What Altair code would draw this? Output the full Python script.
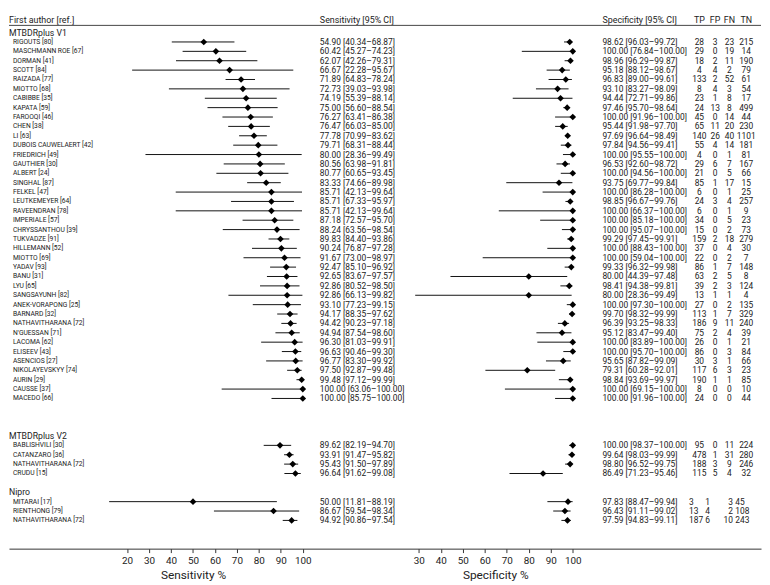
import altair as alt
import pandas as pd

# ---------------- data ----------------
groups = ["MTBDRplus V1", "MTBDRplus V2", "Nipro"]
group_sizes = [39, 4, 3]

authors = [
    "Rigouts", "Maschmann Roe", "Dorman", "Scott", "Raizada", "Miotto", "Cabibbe", "Kapata",
    "Farooqi", "Chen", "Li", "Dubois Cauwelaert", "Friedrich", "Gauthier", "Albert", "Singhal",
    "Felkel", "Leutkemeyer", "Raveendran", "Imperiale", "Chryssanthou", "Tukvadze", "Hillemann",
    "Miotto", "Yadav", "Banu", "Lyu", "Sangsayunh", "Anek-Vorapong", "Barnard", "Nathavitharana",
    "N'Guessan", "Lacoma", "Eliseev", "Asencios", "Nikolayevskyy", "Aurin", "Causse", "Macedo",
    "Bablishvili", "Catanzaro", "Nathavitharana", "Crudu",
    "Mitarai", "Rienthong", "Nathavitharana",
]
refs = [80, 67, 41, 84, 77, 68, 35, 59, 46, 38, 63, 42, 49, 30, 24, 87, 47, 64, 78, 57, 39, 91, 52,
        69, 93, 31, 65, 82, 25, 32, 72, 71, 62, 43, 27, 74, 29, 37, 66,
        30, 36, 72, 15,
        17, 79, 72]

sens = [54.90, 60.42, 62.07, 66.67, 71.89, 72.73, 74.19, 75.00, 76.27, 76.47, 77.78, 79.71, 80.00,
        80.56, 80.77, 83.33, 85.71, 85.71, 85.71, 87.18, 88.24, 89.83, 90.24, 91.67, 92.47, 92.65,
        92.86, 92.86, 93.10, 94.17, 94.42, 94.94, 96.30, 96.63, 96.77, 97.50, 99.48, 100.00, 100.00,
        89.62, 93.91, 95.43, 96.64,
        50.00, 86.67, 94.92]
sens_lo = [40.34, 45.27, 42.26, 22.28, 64.83, 39.03, 55.39, 56.60, 63.41, 66.03, 70.99, 68.31, 28.36,
           63.98, 60.65, 74.66, 42.13, 67.33, 42.13, 72.57, 63.56, 84.40, 76.87, 73.00, 85.10, 83.67,
           80.52, 66.13, 77.23, 88.35, 90.23, 87.54, 81.03, 90.46, 83.30, 92.87, 97.12, 63.06, 85.75,
           82.19, 91.47, 91.50, 91.62,
           11.81, 59.54, 90.86]
sens_hi = [68.87, 74.23, 79.31, 95.67, 78.24, 93.98, 88.14, 88.54, 86.38, 85.00, 83.62, 88.44, 99.49,
           91.81, 93.45, 89.98, 99.64, 95.97, 99.64, 95.70, 98.54, 93.86, 97.28, 98.97, 96.92, 97.57,
           98.50, 99.82, 99.15, 97.62, 97.18, 98.60, 99.91, 99.30, 99.92, 99.48, 99.99, 100.00, 100.00,
           94.70, 95.82, 97.89, 99.08,
           88.19, 98.34, 97.54]

spec = [98.62, 100.00, 98.96, 95.18, 96.83, 93.10, 94.44, 97.46, 100.00, 95.44, 97.69, 97.84, 100.00,
        96.53, 100.00, 93.75, 100.00, 98.85, 100.00, 100.00, 100.00, 99.29, 100.00, 100.00, 99.33,
        80.00, 98.41, 80.00, 100.00, 99.70, 96.39, 95.12, 100.00, 100.00, 95.65, 79.31, 98.84, 100.00,
        100.00,
        100.00, 99.64, 98.80, 86.49,
        97.83, 96.43, 97.59]
spec_lo = [96.03, 76.84, 96.29, 88.12, 89.00, 83.27, 72.71, 95.70, 91.96, 91.98, 96.64, 94.56, 95.55,
           92.60, 94.56, 69.77, 86.28, 96.67, 66.37, 85.18, 95.07, 97.45, 88.43, 59.04, 96.32, 44.39,
           94.38, 28.36, 97.30, 98.32, 93.25, 83.47, 83.89, 95.70, 87.82, 60.28, 93.69, 69.15, 91.96,
           98.37, 98.03, 96.52, 71.23,
           88.47, 91.11, 94.83]
spec_hi = [99.72, 100.00, 99.87, 98.67, 99.61, 98.09, 99.86, 98.64, 100.00, 97.70, 98.49, 99.41, 100.00,
           98.72, 100.00, 99.84, 100.00, 99.76, 100.00, 100.00, 100.00, 99.91, 100.00, 100.00, 99.98,
           97.48, 99.81, 99.49, 100.00, 99.99, 98.33, 99.40, 100.00, 100.00, 99.09, 92.01, 99.97, 100.00,
           100.00,
           100.00, 99.99, 99.75, 95.46,
           99.94, 99.02, 99.11]

tp = [28, 29, 18, 4, 133, 8, 23, 24, 45, 65, 140, 55, 4, 29, 21, 85, 6, 24, 6, 34, 15, 159, 37, 22, 86,
      63, 39, 13, 27, 113, 186, 75, 26, 86, 30, 117, 190, 8, 24,
      95, 478, 188, 115,
      3, 13, 187]
fp = [3, 0, 2, 4, 2, 4, 1, 13, 0, 11, 26, 4, 0, 6, 0, 1, 0, 3, 0, 0, 0, 2, 0, 0, 1, 2, 2, 1, 0, 1, 9,
      2, 0, 0, 3, 6, 1, 0, 0,
      0, 1, 3, 5,
      1, 4, 6]
fn = [23, 19, 11, 2, 52, 3, 8, 8, 14, 20, 40, 14, 1, 7, 5, 17, 1, 4, 1, 5, 2, 18, 4, 2, 7, 5, 3, 1, 2,
      7, 11, 4, 1, 3, 1, 3, 1, 0, 0,
      11, 31, 9, 4,
      3, 2, 10]
tn = [215, 14, 190, 79, 61, 54, 17, 499, 44, 230, 1101, 181, 81, 167, 66, 15, 25, 257, 9, 23, 73, 279,
      30, 7, 148, 8, 124, 4, 135, 329, 240, 39, 21, 84, 66, 23, 85, 10, 44,
      224, 280, 246, 32,
      45, 108, 243]

header_labels = ["First author [ref.]", "Sensitivity [95% CI]", "Specificity [95% CI]",
                 "TP", "FP", "FN", "TN"]
sens_ticks = [20, 30, 40, 50, 60, 70, 80, 90, 100]
spec_ticks = [30, 40, 50, 60, 70, 80, 90, 100]

# ---------------- layout ----------------
W, H = 762, 544
FONT = "Roboto"
TXT = "#222222"
group_header_rows = [0, 43, 49]

rows, grp = [], []
for g, (start, n) in enumerate(zip(group_header_rows, group_sizes)):
    for k in range(n):
        rows.append(start + 1 + k)
        grp.append(groups[g])

df = pd.DataFrame({
    "row": rows,
    "group": grp,
    "label": [f"{a.upper()} [{r}]" for a, r in zip(authors, refs)],
    "sens": sens, "sens_lo": sens_lo, "sens_hi": sens_hi,
    "spec": spec, "spec_lo": spec_lo, "spec_hi": spec_hi,
    "tp": tp, "fp": fp, "fn": fn, "tn": tn,
})
df["sens_txt"] = [f"{s:.2f} [{l:.2f}\u2013{h:.2f}]" for s, l, h in zip(sens, sens_lo, sens_hi)]
df["spec_txt"] = [f"{s:.2f} [{l:.2f}\u2013{h:.2f}]" for s, l, h in zip(spec, spec_lo, spec_hi)]

main_df = df[df["group"] != "Nipro"]
nipro_df = df[df["group"] == "Nipro"]

gdf = pd.DataFrame({"row": group_header_rows, "group": groups})
hdf = pd.DataFrame({"h": header_labels})

yscale = alt.Scale(domain=[-2.219, 55.01], reverse=True, nice=False, zero=False)
Y = alt.Y("row:Q", scale=yscale, axis=None)

sens_scale = alt.Scale(domain=[-33.80, 308.67], nice=False, zero=False)
spec_scale = alt.Scale(domain=[-156.33, 185.59], nice=False, zero=False)


def make_axis(values, title, title_x, show_domain):
    return alt.Axis(orient="bottom", values=values, grid=False, domain=show_domain,
                    domainColor="#333333", domainWidth=1, tickColor="#333333", tickSize=4,
                    labelPadding=3, labelFont=FONT, labelFontSize=10, labelColor=TXT,
                    labelFlush=False, format="d", title=title, titleFont=FONT,
                    titleFontSize=12, titleFontWeight="normal", titleColor=TXT,
                    titleX=title_x, titleY=26, titleAlign="center", titleBaseline="middle")


sens_axis = make_axis(sens_ticks, "Sensitivity %", 186.5, True)
spec_axis = make_axis(spec_ticks, "Specificity %", 492.7, False)


def forest(val, lo, hi, scale, axis):
    base = alt.Chart(df)
    rule = base.mark_rule(color="#111111", strokeWidth=1).encode(
        x=alt.X(f"{lo}:Q", scale=scale, axis=axis), x2=f"{hi}:Q", y=Y)
    pt = base.mark_point(shape="diamond", filled=True, size=45, color="#000000",
                         opacity=1, strokeWidth=0).encode(
        x=alt.X(f"{val}:Q", scale=scale, axis=axis), y=Y)
    return alt.layer(rule, pt)


sens_layer = forest("sens", "sens_lo", "sens_hi", sens_scale, sens_axis)
spec_layer = forest("spec", "spec_lo", "spec_hi", spec_scale, spec_axis)


def col_text(field, xpx, align="left", size=8.5, data=df):
    return alt.Chart(data).mark_text(align=align, baseline="middle", font=FONT,
                                     fontSize=size, color=TXT).encode(
        x=alt.value(xpx), y=Y, text=f"{field}:N")


texts = [
    col_text("label", 4, size=6.8),
    col_text("group", 0, size=8.8, data=gdf),
    col_text("sens_txt", 315),
    col_text("spec_txt", 601.3),
    # count columns (MTBDRplus rows: centred)
    col_text("tp", 699.5, "center", data=main_df),
    col_text("fp", 715.5, "center", data=main_df),
    col_text("fn", 730.0, "center", data=main_df),
    col_text("tn", 747.0, "center", data=main_df),
    # Nipro rows are set with a looser alignment in the original table
    col_text("tp", 689.0, "left", data=nipro_df),
    col_text("fp", 708.0, "center", data=nipro_df),
    col_text("fn", 733.5, "right", data=nipro_df),
    col_text("tn", 736.0, "left", data=nipro_df),
]

header_x = [0, 315, 601.3, 699.5, 715.5, 730.0, 747.0]
header_align = ["left", "left", "left", "center", "center", "center", "center"]
headers = []
for i, (hx, ha) in enumerate(zip(header_x, header_align)):
    headers.append(
        alt.Chart(hdf).transform_filter(alt.datum.h == header_labels[i])
        .mark_text(align=ha, baseline="middle", font=FONT, fontSize=9, color=TXT)
        .encode(x=alt.value(hx), y=alt.value(7.9), text="h:N")
    )

header_line = alt.Chart(hdf).transform_filter(alt.datum.h == header_labels[0]).mark_rule(
    color="#444444", strokeWidth=1).encode(x=alt.value(0), x2=alt.value(W), y=alt.value(13.8))

chart = alt.layer(sens_layer, spec_layer, header_line, *headers, *texts).resolve_scale(
    x="independent").resolve_axis(x="independent").properties(
    width=W, height=H, padding=0, background="white").configure_view(stroke=None)

chart.save("out.html", embed_options={"renderer": "svg", "actions": False})
